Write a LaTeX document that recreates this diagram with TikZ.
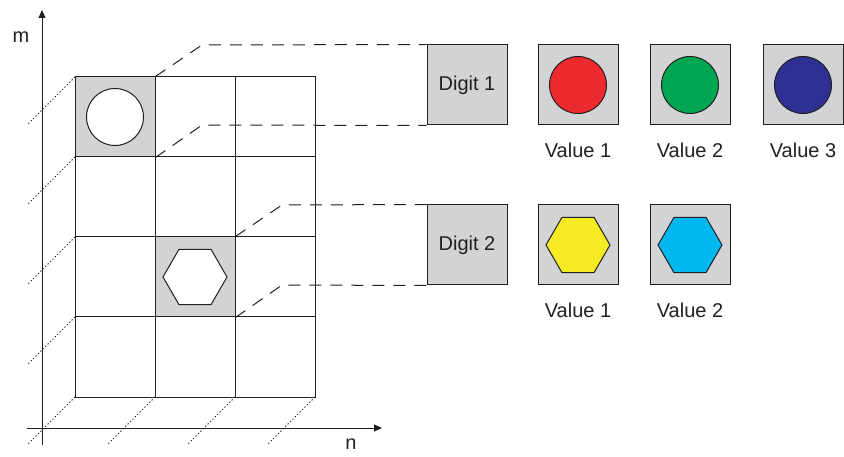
\documentclass[tikz,border=0pt]{standalone}
\usepackage{fontspec}
\setmainfont{Liberation Sans}
\usetikzlibrary{arrows.meta,shapes.geometric}
\definecolor{ink}{HTML}{231F20}
\definecolor{boxgrey}{HTML}{D1D3D4}
\definecolor{vred}{HTML}{ED2A2E}
\definecolor{vgreen}{HTML}{00A651}
\definecolor{vblue}{HTML}{2E3192}
\definecolor{vyellow}{HTML}{F7EC24}
\definecolor{vcyan}{HTML}{00B8F0}
\begin{document}
\begin{tikzpicture}[x=1pt,y=-1pt,
  every node/.style={text=ink, font=\fontsize{20}{24}\selectfont},
  cell/.style={draw=ink, line width=1pt, minimum size=80pt, inner sep=0pt},
  greycell/.style={cell, fill=boxgrey},
  gbox/.style={draw=ink, line width=1pt, fill=boxgrey, minimum size=80pt, inner sep=0pt},
  disc/.style={circle, draw=ink, line width=1pt, minimum size=57pt, inner sep=0pt},
  hexa/.style={regular polygon, regular polygon sides=6, draw=ink, line width=1pt, minimum size=64pt, inner sep=0pt},
  dashline/.style={draw=ink, line width=1pt, dash pattern=on 12pt off 9pt},
  dotline/.style={draw=ink, line width=1pt, dash pattern=on 1.2pt off 2.2pt},
  axis/.style={draw=ink, line width=1pt, -{Triangle[length=8pt,width=7pt]}}
]
\useasboundingbox (0,0) rectangle (844,457);

% dotted depth lines
\foreach \k/\x/\y in {a/75/77, b/75/157, c/75/237, d/75/317, e/75/397, f/155/397, g/235/397, h/315/397}{
  \coordinate (ds\k) at (\x,\y);
  \coordinate (de\k) at ({\x-48},{\y+48});
  \draw[dotline] (ds\k) -- (de\k);
}

% axes
\coordinate (vb) at (42,445);
\coordinate (vt) at (42,10);
\coordinate (hl) at (27,428);
\coordinate (hr) at (382,428);
\draw[axis] (vb) -- (vt);
\draw[axis] (hl) -- (hr);
\node (lm) at (21,37) {m};
\node (ln) at (351,444) {n};

% grid
\foreach \i in {1,...,4}{
  \foreach \j in {1,...,3}{
    \node[cell] (c\i\j) at ({35+80*\j},{37+80*\i}) {};
  }
}
\node[greycell] (c11) at (115,117) {};
\node[greycell] (c32) at (195,277) {};
\node[disc, fill=white] (o1) at (c11) {};
\node[hexa, fill=white] (h1) at (c32) {};

% digit boxes
\node[gbox] (d1) at (467,85) {Digit 1};
\node[gbox] (d2) at (467,245) {Digit 2};

% value boxes row 1
\node[gbox] (v11) at (578,85) {};
\node[gbox] (v12) at (690,85) {};
\node[gbox] (v13) at (803,85) {};
\node[disc, fill=vred] (s11) at (v11) {};
\node[disc, fill=vgreen] (s12) at (v12) {};
\node[disc, fill=vblue] (s13) at (v13) {};
\node (t11) at (578,150) {Value 1};
\node (t12) at (690,150) {Value 2};
\node (t13) at (803,150) {Value 3};

% value boxes row 2
\node[gbox] (v21) at (578,245) {};
\node[gbox] (v22) at (690,245) {};
\node[hexa, fill=vyellow] (s21) at (v21) {};
\node[hexa, fill=vcyan] (s22) at (v22) {};
\node (t21) at (578,310) {Value 1};
\node (t22) at (690,310) {Value 2};

% dashed projection lines
\coordinate (k1) at (202,45);
\coordinate (k2) at (202,125);
\coordinate (k3) at (282,205);
\coordinate (k4) at (282,285);
\draw[dashline] (c11.north east) -- (k1) -- (d1.north west);
\draw[dashline] (c11.south east) -- (k2) -- (d1.south west);
\draw[dashline] (c32.north east) -- (k3) -- (d2.north west);
\draw[dashline] (c32.south east) -- (k4) -- (d2.south west);
\end{tikzpicture}
\end{document}
